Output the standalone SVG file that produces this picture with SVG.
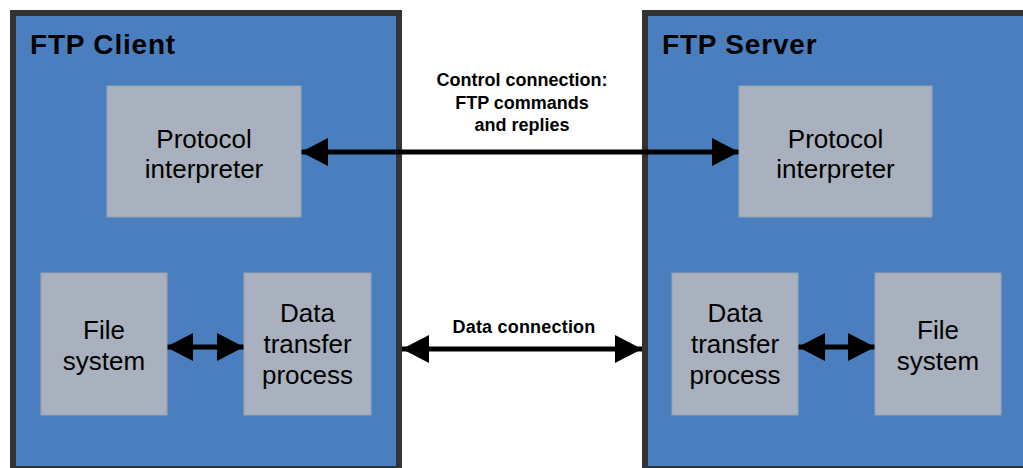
<svg xmlns="http://www.w3.org/2000/svg" width="1023" height="468" viewBox="0 0 1023 468">
<style>
.host{fill:#4a7ebe;stroke:#333333;stroke-width:6}
.box{fill:#a8b1bd;stroke:#9aa3b0;stroke-width:1}
.title{font-family:"Liberation Sans",Arial,sans-serif;font-weight:bold;font-size:28px;fill:#000;letter-spacing:0.8px}
.lbl{font-family:"Liberation Sans",Arial,sans-serif;font-size:26px;fill:#000;text-anchor:middle}
.conn{font-family:"Liberation Sans",Arial,sans-serif;font-weight:bold;font-size:18px;fill:#000;text-anchor:middle}
.line{stroke:#000;stroke-width:5;fill:none;marker-start:url(#ah);marker-end:url(#ah)}
.glow{stroke:#000;stroke-opacity:0.06;stroke-width:26;fill:none;filter:url(#blur)}
</style>
<defs>
<marker id="ah" markerUnits="userSpaceOnUse" markerWidth="28" markerHeight="28" refX="27" refY="14" orient="auto-start-reverse" viewBox="0 0 28 28">
<path d="M0,0 L27,14 L0,28 Z" fill="#000"/>
</marker>
<filter id="blur" x="-10%" y="-100%" width="120%" height="300%">
<feGaussianBlur stdDeviation="3"/>
</filter>
</defs>
<rect width="1023" height="468" fill="#ffffff"/>
<g id="ftp-client">
<rect class="host" x="13" y="13" width="386" height="456"/>
<text class="title" x="30" y="54">FTP Client</text>
</g>
<g id="ftp-server">
<rect class="host" x="645" y="13" width="382" height="456"/>
<text class="title" x="662" y="54">FTP Server</text>
</g>
<g id="connectors">
<path class="glow" d="M305,152 H735"/>
<path class="glow" d="M405,349 H638"/>
<path class="glow" d="M170,347 H241"/>
<path class="glow" d="M801,347 H872"/>
<path class="line" d="M301,152 H739"/>
<path class="line" d="M402,349 H642"/>
<path class="line" d="M166,347 H244"/>
<path class="line" d="M798,347 H875"/>
<text class="conn" x="522" y="86">Control connection:</text>
<text class="conn" x="522" y="109">FTP commands</text>
<text class="conn" x="522" y="131">and replies</text>
<text class="conn" x="524" y="333" letter-spacing="0.2">Data connection</text>
</g>
<g id="client-pi">
<rect class="box" x="107" y="86" width="194" height="131"/>
<text class="lbl" x="204" y="148">Protocol</text>
<text class="lbl" x="204" y="178">interpreter</text>
</g>
<g id="client-fs">
<rect class="box" x="41" y="273" width="126" height="142"/>
<text class="lbl" x="104" y="339">File</text>
<text class="lbl" x="104" y="370">system</text>
</g>
<g id="client-dtp">
<rect class="box" x="244" y="273" width="127" height="142"/>
<text class="lbl" x="307.5" y="322">Data</text>
<text class="lbl" x="307.5" y="353">transfer</text>
<text class="lbl" x="307.5" y="384">process</text>
</g>
<g id="server-pi">
<rect class="box" x="739" y="86" width="193" height="131"/>
<text class="lbl" x="835.5" y="148">Protocol</text>
<text class="lbl" x="835.5" y="178">interpreter</text>
</g>
<g id="server-dtp">
<rect class="box" x="672" y="273" width="126" height="142"/>
<text class="lbl" x="735" y="322">Data</text>
<text class="lbl" x="735" y="353">transfer</text>
<text class="lbl" x="735" y="384">process</text>
</g>
<g id="server-fs">
<rect class="box" x="875" y="273" width="126" height="142"/>
<text class="lbl" x="938" y="339">File</text>
<text class="lbl" x="938" y="370">system</text>
</g>
</svg>
